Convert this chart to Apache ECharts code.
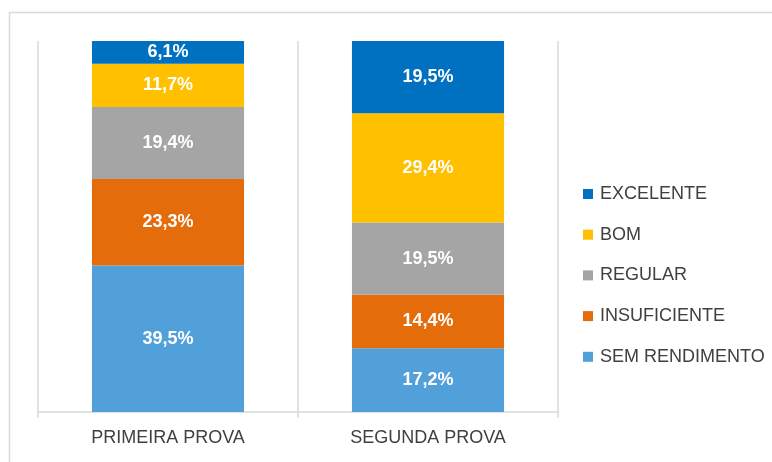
<!DOCTYPE html>
<html>
<head>
<meta charset="utf-8">
<script src="https://cdn.jsdelivr.net/npm/echarts@6/dist/echarts.min.js"></script>
<style>
  html, body { margin: 0; padding: 0; background: #fff; }
  #chart { width: 772px; height: 462px; }
</style>
</head>
<body>
<div id="chart"></div>
<script>
const categories = ['PRIMEIRA PROVA', 'SEGUNDA PROVA'];
const seriesNames = ['SEM RENDIMENTO', 'INSUFICIENTE', 'REGULAR', 'BOM', 'EXCELENTE'];
const semRendimento = [39.5, 17.2];
const insuficiente = [23.3, 14.4];
const regular = [19.4, 19.5];
const bom = [11.7, 29.4];
const excelente = [6.1, 19.5];
const colors = ['#52a0d9', '#e46c0a', '#a5a5a5', '#ffc000', '#0070c0'];

const values = [semRendimento, insuficiente, regular, bom, excelente];
const font = 'Liberation Sans';

const chart = echarts.init(document.getElementById('chart'));

const series = seriesNames.map((name, i) => ({
  name: name,
  type: 'bar',
  stack: 'total',
  barWidth: '58.5%',
  data: values[i],
  itemStyle: { color: colors[i] },
  label: {
    show: true,
    position: 'inside',
    color: '#fff',
    fontFamily: font,
    fontWeight: 'bold',
    fontSize: 18,
    formatter: (p) => p.value.toFixed(1).replace('.', ',') + '%'
  },
  emphasis: { disabled: true }
}));

chart.setOption({
  animation: false,
  graphic: [{
    type: 'rect',
    shape: { x: 9.5, y: 12.5, width: 800, height: 500 },
    style: { fill: 'none', stroke: '#d9d9d9', lineWidth: 1.5 },
    silent: true,
    z: -1
  }],
  grid: { left: 38, right: 214, top: 41, bottom: 50 },
  legend: {
    data: seriesNames.slice().reverse(),
    orient: 'vertical',
    left: 583,
    top: 185,
    padding: 0,
    itemWidth: 10,
    itemHeight: 10,
    itemGap: 22.7,
    icon: 'rect',
    textStyle: { color: '#404040', fontFamily: font, fontSize: 18, padding: [0, 0, 0, 2] }
  },
  xAxis: {
    type: 'category',
    data: categories,
    axisLine: { lineStyle: { color: '#d9d9d9', width: 1.5 } },
    axisTick: { show: true, length: 6, lineStyle: { color: '#d9d9d9', width: 1.5 } },
    splitLine: { show: true, lineStyle: { color: '#d9d9d9', width: 1.5 } },
    axisLabel: { color: '#404040', fontFamily: font, fontSize: 18, margin: 17 }
  },
  yAxis: {
    type: 'value',
    min: 0,
    max: 100,
    show: false
  },
  series: series
});
</script>
</body>
</html>
